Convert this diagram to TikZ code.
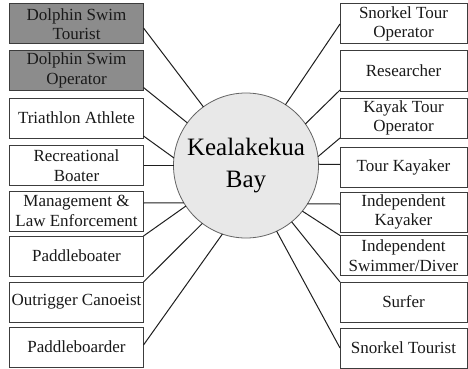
\documentclass[tikz,border=0pt]{standalone}
\usepackage{fontspec}
\setmainfont{Liberation Serif}
\definecolor{boxline}{RGB}{60,60,60}
\definecolor{dolphin}{RGB}{140,140,140}
\definecolor{bayfill}{RGB}{232,232,232}
\definecolor{bayline}{RGB}{100,100,100}
\definecolor{conn}{RGB}{30,30,30}
\tikzset{
  actor/.style={draw=boxline, line width=1pt, rectangle, inner sep=1pt, outer sep=0pt,
    align=center, font=\fontsize{17}{19.5}\selectfont, text=black!90},
  leftbox/.style={actor, minimum width=134pt, minimum height=40pt},
  rightbox/.style={actor, minimum width=127pt, minimum height=40pt},
  grayfill/.style={fill=dolphin},
  bay/.style={circle, draw=bayline, line width=0.8pt, fill=bayfill, minimum size=145pt,
    inner sep=0pt, outer sep=0pt, align=center, font=\fontsize{25}{32.4}\selectfont},
  link/.style={draw=conn, line width=1pt}
}
\begin{document}
\begin{tikzpicture}[x=1pt, y=-1pt]
\useasboundingbox (0,0) rectangle (468,369);
% centre
\node[bay] (c) at (246,165.5) {Kealakekua\\Bay};
% left column
\node[leftbox, grayfill] (l1) at (76.5,24) {Dolphin Swim\\Tourist};
\node[leftbox, grayfill] (l2) at (76.5,70.5) {Dolphin Swim\\Operator};
\node[leftbox] (l3) at (76.5,118) {Triathlon Athlete};
\node[leftbox] (l4) at (76.5,165.5) {Recreational\\Boater};
\node[leftbox] (l5) at (76.5,211) {Management \&\\Law Enforcement};
\node[leftbox] (l6) at (76.5,256) {Paddleboater};
\node[leftbox] (l7) at (76.5,302) {Outrigger Canoeist};
\node[leftbox] (l8) at (76.5,347) {Paddleboarder};
% right column
\node[rightbox] (r1) at (403.5,24) {Snorkel Tour\\Operator};
\node[rightbox] (r2) at (403.5,71) {Researcher};
\node[rightbox] (r3) at (403.5,118) {Kayak Tour\\Operator};
\node[rightbox] (r4) at (403.5,167) {Tour Kayaker};
\node[rightbox] (r5) at (403.5,212) {Independent\\Kayaker};
\node[rightbox] (r6) at (403.5,255.5) {Independent\\Swimmer/Diver};
\node[rightbox] (r7) at (403.5,302) {Surfer};
\node[rightbox] (r8) at (403.5,348) {Snorkel Tourist};
% connectors left
\draw[link] ([yshift=-4pt]l1.east) -- (c.126.3);
\draw[link] ([yshift=3pt]l2.south east) -- (c.144.3);
\draw[link] ([yshift=2pt]l3.south east) -- (c.174);
\draw[link] (l4.east) -- (c.180);
\draw[link] ([yshift=8pt]l5.east) -- (c.211.5);
\draw[link] (l6.north east) -- (c.214.8);
\draw[link] (l7.north east) -- (c.233);
\draw[link] ([yshift=2pt]l8.east) -- (c.251.9);
% connectors right
\draw[link] (r1.west) -- (c.57.5);
\draw[link] ([yshift=1pt]r2.south west) -- (c.35.3);
\draw[link] (r3.south west) -- (c.7);
\draw[link] ([yshift=2.5pt]r4.west) -- (c.1);
\draw[link] ([yshift=8pt]r5.west) -- (c.328);
\draw[link] (r6.north west) -- (c.321.7);
\draw[link] (r7.north west) -- (c.309.5);
\draw[link] (r8.west) -- (c.295.3);
\end{tikzpicture}
\end{document}
